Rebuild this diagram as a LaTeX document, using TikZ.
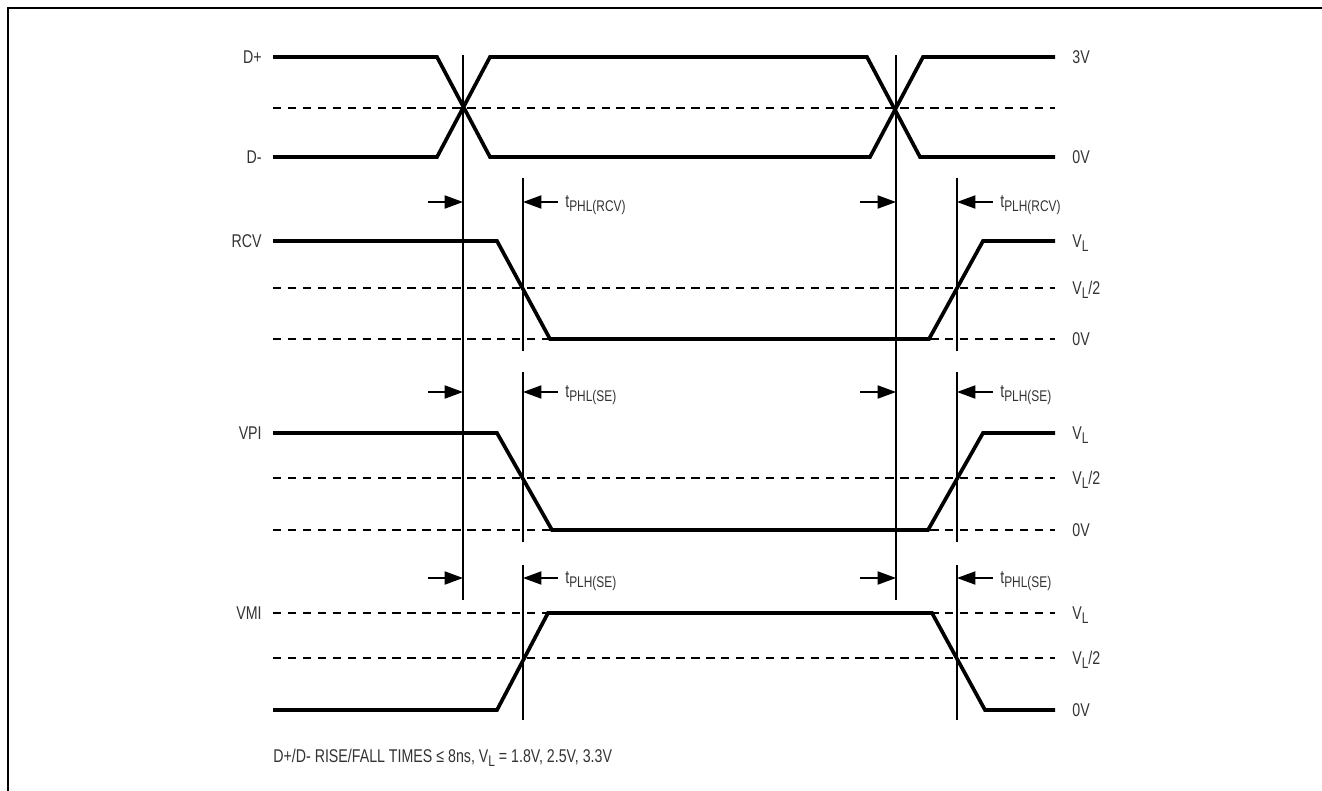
\documentclass[tikz,border=0pt]{standalone}
\usepackage{fontspec}
\setmainfont{Liberation Sans}[FakeStretch=0.77]
\usetikzlibrary{arrows.meta}
\newcommand{\lowsub}[1]{\raisebox{-0.45ex}{\fontsize{8.8}{10}\selectfont #1}}
\begin{document}
\begin{tikzpicture}[x=0.02cm,y=-0.02cm,
  font=\fontsize{10.5}{12}\selectfont,
  every node/.style={text=black!80,inner sep=0pt},
  frame/.style={line width=1.4pt},
  sig/.style={line width=2.1pt,line join=miter},
  refline/.style={line width=0.8pt,dash pattern=on 4.8pt off 3.7pt},
  vline/.style={line width=0.85pt},
  arr/.style={line width=0.85pt,-{Triangle[length=10.5pt,width=7.5pt]}},
  llbl/.style={anchor=east},
  rlbl/.style={anchor=west},
  tlbl/.style={anchor=west}]
\useasboundingbox (0,0) rectangle (1322,791);
\draw[frame] (8,791) -- (8,8) -- (1322,8);

% reference (dashed) levels
\draw[refline] (273,108) -- (1055,108);
\draw[refline] (273,288) -- (1055,288);
\draw[refline] (273,339) -- (1055,339);
\draw[refline] (273,478) -- (1055,478);
\draw[refline] (273,530) -- (1055,530);
\draw[refline] (273,613) -- (1055,613);
\draw[refline] (273,658) -- (1055,658);

% waveforms
\draw[sig] (273,57) -- (437,57) -- (490,157) -- (870,157) -- (923,57) -- (1055,57);
\draw[sig] (273,157) -- (437,157) -- (490,57) -- (867,57) -- (920,157) -- (1055,157);
\draw[sig] (273,241) -- (497,241) -- (550,339) -- (929,339) -- (983,241) -- (1055,241);
\draw[sig] (273,433) -- (497,433) -- (552,530) -- (928,530) -- (983,433) -- (1055,433);
\draw[sig] (273,710) -- (497,710) -- (548,613) -- (932,613) -- (985,710) -- (1055,710);

% timing reference lines
\draw[vline] (463,55) -- (463,600);
\draw[vline] (896,55) -- (896,600);
\foreach \x in {523,957}{
  \draw[vline] (\x,178) -- (\x,351);
  \draw[vline] (\x,372) -- (\x,542);
  \draw[vline] (\x,565) -- (\x,720);
}

% arrows
\foreach \n/\y in {a/202,b/392,c/578}{
  \coordinate (\n1t) at (428,\y);  \coordinate (\n1h) at (463,\y);
  \coordinate (\n2t) at (558,\y);  \coordinate (\n2h) at (523,\y);
  \coordinate (\n3t) at (860,\y);  \coordinate (\n3h) at (896,\y);
  \coordinate (\n4t) at (993,\y);  \coordinate (\n4h) at (957,\y);
  \draw[arr] (\n1t) -- (\n1h);
  \draw[arr] (\n2t) -- (\n2h);
  \draw[arr] (\n3t) -- (\n3h);
  \draw[arr] (\n4t) -- (\n4h);
}

% timing labels
\node[tlbl] (t1) at (565,205) {t\lowsub{PHL(RCV)}};
\node[tlbl] (t2) at (1000,205) {t\lowsub{PLH(RCV)}};
\node[tlbl] (t3) at (565,395) {t\lowsub{PHL(SE)}};
\node[tlbl] (t4) at (1000,395) {t\lowsub{PLH(SE)}};
\node[tlbl] (t5) at (565,581) {t\lowsub{PLH(SE)}};
\node[tlbl] (t6) at (1000,581) {t\lowsub{PHL(SE)}};

% left labels
\node[llbl] (ldp) at (262,57) {D+};
\node[llbl] (ldm) at (262,157) {D-};
\node[llbl] (lrcv) at (262,241) {RCV};
\node[llbl] (lvpi) at (262,433) {VPI};
\node[llbl] (lvmi) at (262,613) {VMI};

% right labels
\node[rlbl] (r1) at (1072,57) {3V};
\node[rlbl] (r2) at (1072,157) {0V};
\node[rlbl] (r3) at (1072,243) {V\lowsub{L}};
\node[rlbl] (r4) at (1072,290) {V\lowsub{L}/2};
\node[rlbl] (r5) at (1072,339) {0V};
\node[rlbl] (r6) at (1072,435) {V\lowsub{L}};
\node[rlbl] (r7) at (1072,480) {V\lowsub{L}/2};
\node[rlbl] (r8) at (1072,530) {0V};
\node[rlbl] (r9) at (1072,615) {V\lowsub{L}};
\node[rlbl] (r10) at (1072,660) {V\lowsub{L}/2};
\node[rlbl] (r11) at (1072,710) {0V};

% note
\node[anchor=west] (note) at (273,758) {D+/D- RISE/FALL TIMES ≤ 8ns, V\lowsub{L} = 1.8V, 2.5V, 3.3V};
\end{tikzpicture}
\end{document}
